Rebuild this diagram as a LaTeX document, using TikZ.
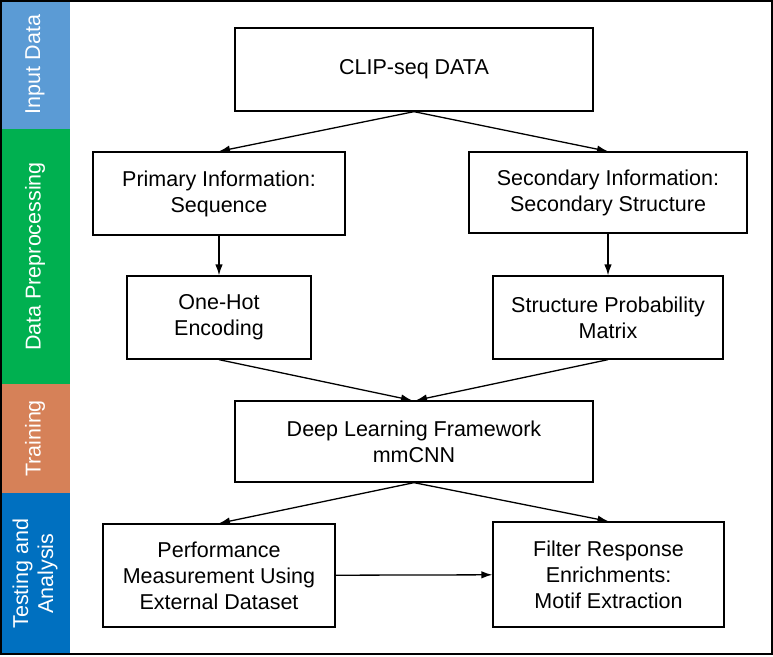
\documentclass[tikz,border=0pt]{standalone}
\usepackage{fontspec}
\setmainfont{Liberation Sans}
\usetikzlibrary{positioning,arrows.meta}
\tikzset{every picture/.style={>={Latex[length=11pt,width=7.5pt]},line width=1.3pt}}
\tikzset{stage box/.style={draw,inner sep=0pt,align=center,font=\fontsize{21.5}{26}\selectfont}}
\tikzset{band text/.style={rotate=90,text=white,align=center,font=\fontsize{21.5}{25}\selectfont}}
\definecolor{inputblue}{RGB}{91,155,213}
\definecolor{prepgreen}{RGB}{0,176,80}
\definecolor{trainorange}{RGB}{214,129,88}
\definecolor{testblue}{RGB}{0,112,192}

\begin{document}
\begin{tikzpicture}[x=1pt,y=-1pt]
      \useasboundingbox (0,0) rectangle (773,656);
      % stage bands on the left
      \fill[inputblue] (0,0) rectangle (70,129);
      \fill[prepgreen] (0,129) rectangle (70,384);
      \fill[trainorange] (0,384) rectangle (70,493);
      \fill[testblue] (0,493) rectangle (70,654);
      \node[band text] (input) at (35,64.5) {Input Data};
      \node[band text] (prep) at (35,256.5) {Data Preprocessing};
      \node[band text] (train) at (35,438.5) {Training};
      \node[band text] (test) at (35,573.5) {Testing and\\Analysis};
      \draw (1,1) rectangle (772,654);
      % flow boxes
      \node[stage box,minimum width=358pt,minimum height=83pt] (clip) at (414,69.5) {CLIP-seq DATA};
      \node[stage box,minimum width=252pt,minimum height=83pt] (prim) at (219,193.5) {Primary Information:\\Sequence};
      \node[stage box,minimum width=278pt,minimum height=81pt] (sec) at (608,192.5) {Secondary Information:\\Secondary Structure};
      \node[stage box,minimum width=184pt,minimum height=83pt] (onehot) at (219,317.5) {One-Hot\\Encoding};
      \node[stage box,minimum width=230pt,minimum height=83pt] (spm) at (608,317.5) {Structure Probability\\Matrix};
      \node[stage box,minimum width=358pt,minimum height=81pt] (deep) at (414,441.5) {Deep Learning Framework\\mmCNN};
      \node[stage box,minimum width=232pt,minimum height=103pt] (perf) at (219,575.5) {Performance\\Measurement Using\\External Dataset};
      \node[stage box,minimum width=231pt,minimum height=105pt] (filter) at (608.5,574.5) {Filter Response\\Enrichments:\\Motif Extraction};
      % connectors
      \draw[->] (clip.south) -- (prim.north);
      \draw[->] (clip.south) -- (sec.north);
      \draw[->] (prim) -- (onehot);
      \draw[->] (sec) -- (spm);
      \draw[->] (onehot.south) -- ([xshift=-2pt]deep.north);
      \draw[->] (spm.south) -- ([xshift=2pt]deep.north);
      \draw[->] (deep.south) -- (perf.north);
      \draw[->] (deep.south) -- (filter.north);
      \draw[->] (perf) -- (filter);
    \end{tikzpicture}
\end{document}
